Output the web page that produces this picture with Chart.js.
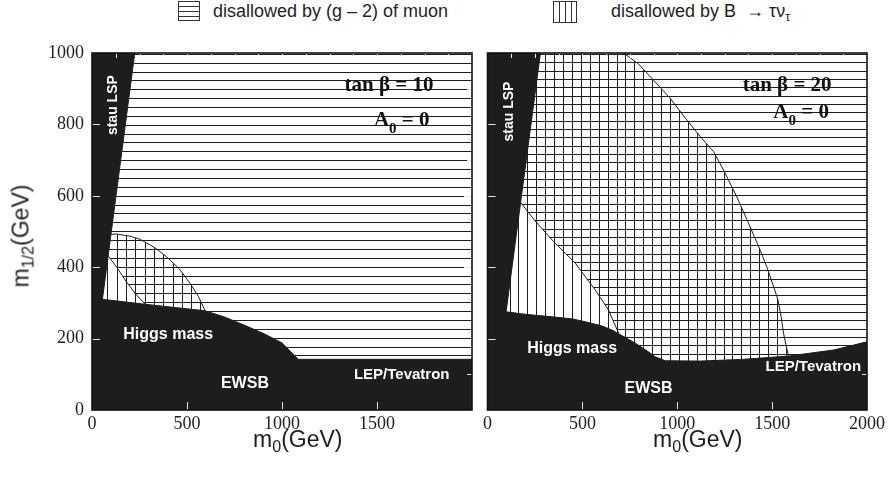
<!DOCTYPE html>
<html><head><meta charset="utf-8">
<title>mSUGRA constraints</title>
<script src="https://cdn.jsdelivr.net/npm/chart.js@4.4.1/dist/chart.umd.min.js"></script>
<style>
html,body{margin:0;padding:0;background:#fff}
body{width:891px;height:478px;position:relative;overflow:hidden;font-family:"Liberation Sans",Arial,Helvetica,sans-serif;color:#1e1e1e}
canvas{position:absolute;top:0}
#c1{left:0}
#c2{left:480px}
.box{position:absolute;box-sizing:border-box;border:1px solid #333}
#box1{left:178px;top:1px;width:22px;height:20px;background:repeating-linear-gradient(to bottom,transparent 0 4px,#333 4px 5px)}
#box2{left:553px;top:1px;width:24px;height:22px;background:repeating-linear-gradient(to right,transparent 0 5px,#333 5px 6px)}
.legtxt{position:absolute;top:0;font-size:18px;line-height:22px;white-space:nowrap}
.xt{position:absolute;top:426px;font-size:23px;white-space:nowrap}
.yt{position:absolute;left:21px;top:236px;font-size:23px;white-space:nowrap;transform:translate(-50%,-50%) rotate(-90deg)}
sub{font-size:70%;vertical-align:-0.3em;line-height:0}
</style>
</head>
<body>
<div class="box" id="box1"></div>
<div class="legtxt" style="left:213px">disallowed by (g – 2) of muon</div>
<div class="box" id="box2"></div>
<div class="legtxt" style="left:611px">disallowed by B&nbsp;&nbsp;→ τν<sub>τ</sub></div>
<canvas id="c1" width="480" height="478"></canvas>
<canvas id="c2" width="411" height="478"></canvas>
<div class="yt">m<sub>1/2</sub>(GeV)</div>
<div class="xt" style="left:253px">m<sub>0</sub>(GeV)</div>
<div class="xt" style="left:653px">m<sub>0</sub>(GeV)</div>
<script>
// ---------- axes ----------
const m0Ticks = [0, 500, 1000, 1500, 2000];
const mHalfTicks = [0, 200, 400, 600, 800, 1000];

// ---------- tan beta = 10, A0 = 0 (left panel) : boundaries [m0, m1/2] ----------
const stauEdge10  = [[225, 1000], [55, 310]];
const higgsEdge10 = [[55, 310], [300, 295], [595, 278], [700, 260], [800, 238], [900, 215], [1000, 188], [1085, 142], [2000, 142]];
const g2Edge10    = [[85, 432], [130, 400], [180, 360], [230, 325], [278, 297]];
const bEdge10     = [[100, 492], [130, 493], [200, 487], [253, 478], [330, 455], [393, 429], [460, 395], [516, 355], [560, 318], [595, 278]];

// ---------- tan beta = 20, A0 = 0 (right panel) ----------
const stauEdge20  = [[279, 1000], [98, 275]];
const higgsEdge20 = [[98, 275], [200, 268], [341, 261], [450, 255], [516, 247], [600, 236], [656, 224], [720, 205], [779, 187], [840, 166], [884, 149], [937, 138], [1121, 137], [1350, 142], [1586, 151], [1823, 168], [2000, 191]];
const g2Edge20    = [[172, 583], [250, 530], [341, 476], [463, 411], [568, 336], [638, 280], [691, 215]];
const bEdge20     = [[718, 1000], [796, 969], [875, 924], [963, 873], [1051, 812], [1121, 766], [1191, 724], [1244, 672], [1314, 597], [1370, 530], [1437, 448], [1472, 401], [1505, 350], [1530, 310], [1548, 260], [1560, 215], [1586, 151]];

// ---------- text ----------
const regionNames = ['stau LSP', 'Higgs mass', 'EWSB', 'LEP/Tevatron'];

// ---------- styles ----------
const BLACK = '#1f1c1d';
const INK = '#1e1e1e';
const SANS = '"Liberation Sans", Arial, Helvetica, sans-serif';
const SERIF = '"Liberation Serif", "Times New Roman", serif';

const X_MAX = m0Ticks[m0Ticks.length - 1];
const Y_MAX = mHalfTicks[mHalfTicks.length - 1];
const pts = arr => arr.map(([x, y]) => ({x, y}));

function excludedPoly(stau, higgs) {
  return [[0, Y_MAX], ...stau, ...higgs.slice(1), [X_MAX, 0], [0, 0]];
}
function g2Poly(stau, g2) {
  const end = g2[g2.length - 1];
  return [stau[0], [X_MAX, Y_MAX], [X_MAX, 0], [end[0], 0], ...g2.slice().reverse()];
}
function bPoly(b) {
  const end = b[b.length - 1];
  return [[0, b[0][1]], ...b, [end[0], 0], [0, 0]];
}

// hatching drawn inside the region shape computed by Chart.js
const hatchPlugin = {
  id: 'hatch',
  afterDatasetDraw(chart, args) {
    const ds = chart.data.datasets[args.index];
    if (!ds.hatch) return;
    const pl = args.meta.data;
    const {ctx, chartArea: a, scales: {x, y}} = chart;
    const h = ds.hatch;
    ctx.save();
    ctx.beginPath();
    ctx.rect(a.left, a.top, a.right - a.left, a.bottom - a.top);
    ctx.clip();
    ctx.beginPath();
    pl.forEach((p, i) => i ? ctx.lineTo(p.x, p.y) : ctx.moveTo(p.x, p.y));
    ctx.closePath();
    ctx.clip();
    ctx.strokeStyle = INK;
    ctx.lineWidth = 1;
    ctx.beginPath();
    const max = h.dir === 'h' ? Y_MAX : X_MAX;
    let v = h.start - Math.floor(h.start / h.step) * h.step;
    for (; v <= max; v += h.step) {
      if (h.dir === 'h') {
        const py = Math.round(y.getPixelForValue(v)) + 0.5;
        ctx.moveTo(a.left, py); ctx.lineTo(a.right, py);
      } else {
        const px = Math.round(x.getPixelForValue(v)) + 0.5;
        ctx.moveTo(px, a.top); ctx.lineTo(px, a.bottom);
      }
    }
    ctx.stroke();
    ctx.restore();
  }
};

const labelPlugin = {
  id: 'labels',
  afterDatasetsDraw(chart, args, opts) {
    const {ctx, scales: {x, y}} = chart;
    for (const L of opts.items) {
      ctx.save();
      ctx.translate(x.getPixelForValue(L.at[0]), y.getPixelForValue(L.at[1]));
      if (L.rotate) ctx.rotate(L.rotate);
      ctx.fillStyle = L.color;
      ctx.textBaseline = 'middle';
      ctx.textAlign = 'left';
      const parts = L.parts;
      const fonts = parts.map(p => (p.sub ? L.subFont : L.font));
      let w = 0;
      parts.forEach((p, i) => { ctx.font = fonts[i]; w += ctx.measureText(p.t).width; });
      let cx = -w / 2;
      parts.forEach((p, i) => {
        ctx.font = fonts[i];
        ctx.fillText(p.t, cx, p.sub ? L.subDy : 0);
        cx += ctx.measureText(p.t).width;
      });
      ctx.restore();
    }
  }
};

const framePlugin = {
  id: 'frame',
  afterDraw(chart, args, o) {
    const {ctx, chartArea: a, scales: {x, y}} = chart;
    ctx.save();
    ctx.globalCompositeOperation = 'difference';
    ctx.strokeStyle = '#ffffff';
    ctx.lineWidth = 1;
    ctx.beginPath();
    const vx = (v, len, top, bottom) => {
      const px = Math.round(x.getPixelForValue(v)) + 0.5;
      if (bottom) { ctx.moveTo(px, a.bottom); ctx.lineTo(px, a.bottom - len); }
      if (top) { ctx.moveTo(px, a.top); ctx.lineTo(px, a.top + len); }
    };
    const hy = (v, len, left, right) => {
      const py = Math.round(y.getPixelForValue(v)) + 0.5;
      if (left) { ctx.moveTo(a.left, py); ctx.lineTo(a.left + len, py); }
      if (right) { ctx.moveTo(a.right, py); ctx.lineTo(a.right - len, py); }
    };
    m0Ticks.slice(1, -1).forEach(v => vx(v, 8, true, true));
    for (let v = o.xMinor; v < X_MAX; v += o.xMinor) if (v % 500) vx(v, 5, true, false);
    mHalfTicks.slice(1, -1).forEach(v => hy(v, 8, true, true));
    for (let v = o.yMinor; v < Y_MAX; v += o.yMinor) if (v % 200) hy(v, 5, false, true);
    ctx.stroke();
    ctx.restore();
    ctx.save();
    ctx.strokeStyle = '#111';
    ctx.lineWidth = 1.6;
    ctx.strokeRect(a.left, a.top, a.right - a.left, a.bottom - a.top);
    ctx.restore();
  }
};

function panelLabels(tb, pos) {
  const white = '#ffffff';
  return [
    {parts: [{t: regionNames[0]}], at: pos.stau, rotate: -Math.PI / 2, color: white, font: `bold 14px ${SANS}`},
    {parts: [{t: regionNames[1]}], at: pos.higgs, color: white, font: `bold 16px ${SANS}`},
    {parts: [{t: regionNames[2]}], at: pos.ewsb, color: white, font: `bold 16px ${SANS}`},
    {parts: [{t: regionNames[3]}], at: pos.lep, color: white, font: `bold 15px ${SANS}`},
    {parts: [{t: 'tan β = ' + tb}], at: pos.tan, color: '#111', font: `bold 21px ${SERIF}`},
    {parts: [{t: 'A'}, {t: '0', sub: true}, {t: ' = 0'}], at: pos.a0, color: '#111',
     font: `bold 21px ${SERIF}`, subFont: `bold 15px ${SERIF}`, subDy: 8}
  ];
}

function makePanel(id, p) {
  const left = p.showY;
  return new Chart(document.getElementById(id), {
    type: 'scatter',
    data: {
      datasets: [
        {label: 'g-2 boundary', data: pts(p.g2), showLine: true, fill: false, borderColor: INK, borderWidth: 1, pointRadius: 0, tension: 0},
        {label: 'B boundary', data: pts(p.b), showLine: true, fill: false, borderColor: INK, borderWidth: 1, pointRadius: 0, tension: 0},
        {label: 'excluded', data: pts(excludedPoly(p.stau, p.higgs)), showLine: true, fill: 'shape',
         backgroundColor: BLACK, borderColor: BLACK, borderWidth: 1, pointRadius: 0, tension: 0},
        {label: 'B → τν', data: pts(bPoly(p.b)), showLine: true, fill: false, borderColor: 'rgba(0,0,0,0)',
         borderWidth: 1, pointRadius: 0, tension: 0, hatch: p.vHatch},
        {label: '(g-2)', data: pts(g2Poly(p.stau, p.g2)), showLine: true, fill: false, borderColor: 'rgba(0,0,0,0)',
         borderWidth: 1, pointRadius: 0, tension: 0, hatch: p.hHatch}
      ]
    },
    options: {
      responsive: false,
      animation: false,
      events: [],
      layout: {padding: p.padding},
      plugins: {
        legend: {display: false},
        tooltip: {enabled: false},
        labels: {items: p.labels},
        frame: {xMinor: p.xMinor, yMinor: 100}
      },
      scales: {
        x: {
          type: 'linear', min: 0, max: X_MAX,
          afterBuildTicks: s => { s.ticks = m0Ticks.map(v => ({value: v})); },
          afterFit: s => { s.height = 68; },
          grid: {display: false, drawTicks: false},
          border: {display: false},
          ticks: {
            autoSkip: false, maxRotation: 0, padding: 3, color: INK,
            font: {family: SERIF, size: 18},
            callback: v => (p.hideLastX && v === X_MAX) ? '' : String(v)
          }
        },
        y: {
          type: 'linear', min: 0, max: Y_MAX, display: left,
          afterBuildTicks: s => { s.ticks = mHalfTicks.map(v => ({value: v})); },
          afterFit: s => { s.width = left ? 92 : 0; },
          grid: {display: false, drawTicks: false},
          border: {display: false},
          ticks: {padding: 8, color: INK, font: {family: SERIF, size: 18}, callback: v => String(v)}
        }
      }
    },
    plugins: [hatchPlugin, labelPlugin, framePlugin]
  });
}

makePanel('c1', {
  showY: true, hideLastX: true,
  padding: {left: 0, top: 53, right: 8, bottom: 0},
  stau: stauEdge10, higgs: higgsEdge10, g2: g2Edge10, b: bEdge10,
  hHatch: {dir: 'h', start: 973, step: 24.85},
  vHatch: {dir: 'v', start: 130, step: 49},
  xMinor: 125,
  labels: panelLabels(10, {stau: [109, 854], higgs: [401, 210], ewsb: [805, 75], lep: [1630, 98], tan: [1563, 910], a0: [1630, 810]})
});

makePanel('c2', {
  showY: false, hideLastX: false,
  padding: {left: 7, top: 53, right: 24, bottom: 0},
  stau: stauEdge20, higgs: higgsEdge20, g2: g2Edge20, b: bEdge20,
  hHatch: {dir: 'h', start: 997, step: 23.3},
  vHatch: {dir: 'v', start: 633, step: 47},
  xMinor: 125,
  labels: panelLabels(20, {stau: [112, 836], higgs: [446, 173], ewsb: [849, 61], lep: [1717, 121], tan: [1579, 910], a0: [1653, 832]})
});
</script>
</body></html>
